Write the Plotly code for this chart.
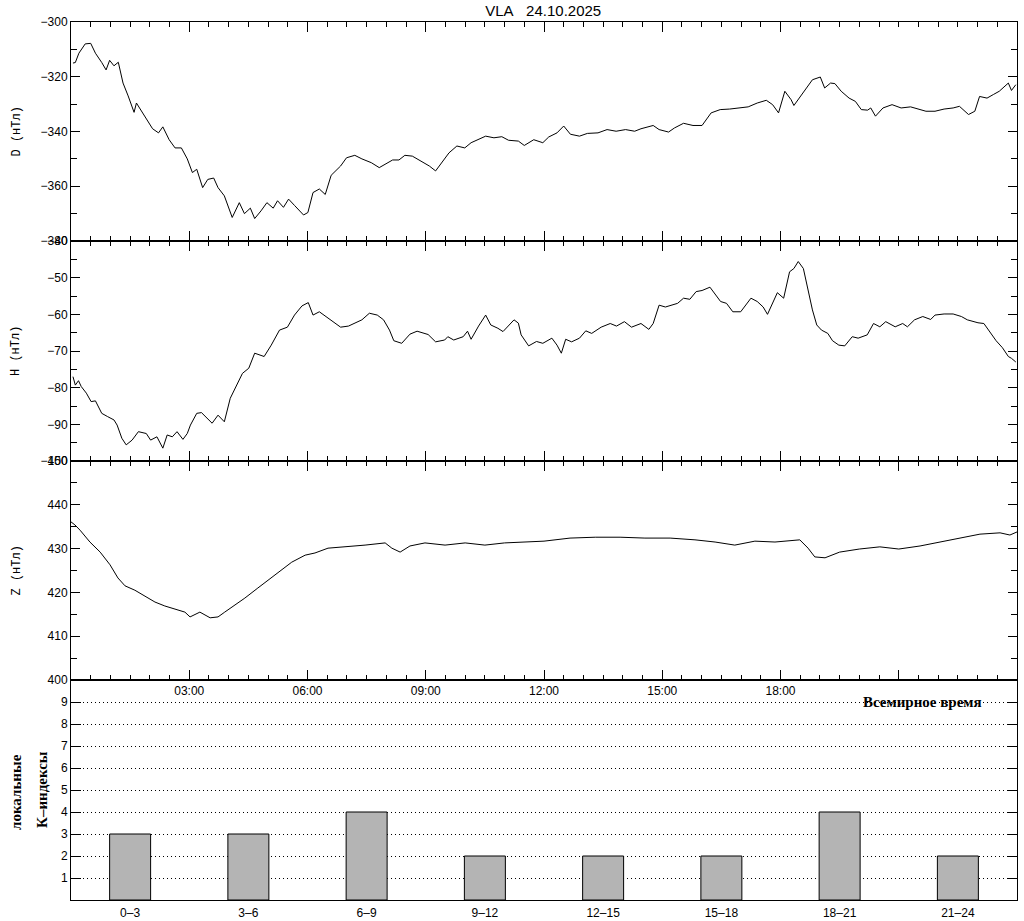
import plotly.graph_objects as go

# ---------------- data (hours UT, values in nT) ----------------
d_hours = [0.05, 0.11, 0.2, 0.36, 0.5, 0.62, 0.78, 0.89, 0.98, 1.09, 1.2, 1.32, 1.45, 1.6, 1.66, 1.79,
           1.94, 2.07, 2.22, 2.33, 2.49, 2.64, 2.8, 2.95, 3.08, 3.19, 3.34, 3.47, 3.62, 3.73, 3.89,
           4.09, 4.27, 4.4, 4.55, 4.66, 4.82, 4.97, 5.13, 5.24, 5.39, 5.52, 5.67, 5.9, 6.01, 6.14,
           6.3, 6.45, 6.6, 6.84, 6.99, 7.2, 7.38, 7.62, 7.82, 8.0, 8.16, 8.32, 8.47, 8.66, 8.86,
           9.09, 9.25, 9.4, 9.59, 9.79, 9.99, 10.15, 10.34, 10.52, 10.73, 10.93, 11.1, 11.35, 11.5,
           11.74, 11.97, 12.12, 12.33, 12.5, 12.67, 12.9, 13.1, 13.37, 13.6, 13.83, 14.07, 14.3,
           14.46, 14.77, 14.92, 15.16, 15.31, 15.54, 15.78, 16.01, 16.24, 16.47, 16.71, 16.94,
           17.18, 17.41, 17.64, 17.8, 17.95, 18.11, 18.27, 18.34, 18.5, 18.66, 18.81, 19.01, 19.12,
           19.27, 19.38, 19.54, 19.74, 19.9, 20.05, 20.21, 20.29, 20.41, 20.6, 20.83, 21.06, 21.3,
           21.53, 21.69, 21.92, 22.15, 22.38, 22.54, 22.77, 22.93, 23.05, 23.24, 23.4, 23.55, 23.78,
           23.86, 23.97]
d_values = [-315.0, -314.8, -311.4, -308.0, -307.8, -311.4, -314.8, -317.5, -314.0, -316.0, -314.7,
            -322.3, -327.0, -333.0, -329.6, -332.6, -335.6, -339.0, -340.5, -338.3, -343.0, -346.0,
            -346.0, -350.0, -355.0, -353.8, -360.5, -357.5, -357.0, -360.5, -363.5, -371.4, -366.0,
            -370.0, -368.0, -371.8, -369.0, -366.0, -368.0, -365.3, -367.7, -364.7, -367.0, -370.5,
            -369.6, -362.3, -361.0, -363.0, -356.0, -352.6, -349.6, -348.7, -350.0, -351.4, -353.2,
            -351.6, -350.4, -350.4, -348.7, -349.0, -350.8, -352.6, -354.4, -351.4, -347.8, -345.3,
            -346.0, -344.1, -343.0, -341.7, -342.3, -341.9, -343.2, -343.5, -345.1, -343.0, -344.1,
            -342.0, -340.5, -338.0, -341.0, -341.7, -340.7, -340.5, -339.3, -339.9, -339.3, -339.9,
            -339.0, -337.8, -339.3, -340.2, -338.7, -337.0, -337.8, -337.8, -333.2, -332.0, -331.8,
            -331.4, -331.0, -329.6, -328.6, -330.2, -333.2, -325.3, -328.4, -330.5, -327.2, -324.1,
            -321.1, -320.1, -324.1, -322.3, -322.5, -325.3, -327.8, -329.0, -332.0, -332.2, -331.4,
            -334.4, -331.4, -330.2, -331.4, -331.0, -332.0, -332.6, -332.6, -331.8, -331.4, -330.8,
            -333.8, -332.6, -327.2, -327.8, -326.5, -325.3, -322.3, -325.0, -322.9]

h_hours = [0.05, 0.11, 0.19, 0.26, 0.39, 0.51, 0.62, 0.78, 0.93, 1.09, 1.17, 1.29, 1.4, 1.55, 1.71,
           1.91, 2.02, 2.18, 2.33, 2.44, 2.57, 2.69, 2.84, 2.95, 3.03, 3.19, 3.31, 3.42, 3.58, 3.73,
           3.89, 4.04, 4.2, 4.35, 4.51, 4.66, 4.9, 5.08, 5.29, 5.49, 5.67, 5.86, 6.02, 6.14, 6.3,
           6.45, 6.64, 6.84, 7.04, 7.23, 7.38, 7.57, 7.77, 7.93, 8.08, 8.19, 8.39, 8.6, 8.78, 9.06,
           9.25, 9.48, 9.56, 9.71, 9.95, 10.06, 10.15, 10.34, 10.52, 10.65, 10.83, 10.96, 11.08,
           11.24, 11.35, 11.42, 11.61, 11.81, 11.97, 12.2, 12.33, 12.44, 12.55, 12.7, 12.9, 13.06,
           13.21, 13.45, 13.68, 13.84, 14.04, 14.22, 14.46, 14.66, 14.77, 14.92, 15.08, 15.23,
           15.39, 15.54, 15.7, 15.86, 16.01, 16.21, 16.32, 16.48, 16.63, 16.79, 16.99, 17.15, 17.25,
           17.41, 17.56, 17.67, 17.8, 17.92, 18.08, 18.23, 18.34, 18.45, 18.58, 18.7, 18.81, 18.92,
           19.04, 19.2, 19.32, 19.48, 19.63, 19.82, 19.97, 20.2, 20.36, 20.52, 20.67, 20.91, 21.1,
           21.22, 21.4, 21.61, 21.81, 21.92, 22.15, 22.38, 22.59, 22.74, 23.01, 23.16, 23.32, 23.47,
           23.63, 23.78, 23.86, 23.97]
h_values = [-77.0, -79.3, -78.1, -79.7, -81.5, -83.8, -83.6, -87.0, -87.9, -88.8, -90.2, -93.8, -95.6,
            -94.3, -92.0, -92.5, -94.3, -93.4, -96.5, -92.9, -93.4, -92.0, -94.1, -92.5, -90.2, -87.0,
            -86.8, -87.9, -89.7, -87.5, -89.3, -82.9, -79.3, -76.1, -74.7, -70.6, -71.5, -68.4,
            -64.3, -63.5, -60.2, -57.7, -56.8, -60.2, -59.3, -60.5, -62.0, -63.5, -63.2, -62.3,
            -61.5, -59.7, -60.2, -61.5, -64.3, -67.2, -67.9, -65.4, -64.6, -65.5, -67.5, -67.0,
            -66.1, -67.0, -66.1, -64.6, -66.8, -63.2, -60.2, -62.9, -63.8, -64.7, -63.3, -61.5,
            -62.4, -65.6, -68.6, -67.4, -67.9, -66.5, -68.4, -70.6, -66.8, -67.5, -66.5, -64.5,
            -65.2, -63.5, -62.5, -63.2, -62.0, -63.5, -62.5, -64.1, -62.5, -57.5, -58.0, -57.5,
            -57.0, -55.6, -55.9, -53.8, -53.5, -52.6, -54.3, -56.5, -57.0, -59.3, -59.3, -57.0,
            -55.6, -56.5, -58.0, -60.0, -57.0, -54.1, -55.6, -48.4, -47.5, -45.6, -47.5, -53.4,
            -58.8, -62.9, -64.3, -65.2, -67.2, -68.4, -68.6, -66.1, -66.5, -65.6, -62.5, -63.4,
            -62.0, -63.4, -62.5, -63.4, -61.5, -60.6, -61.4, -60.2, -59.9, -59.9, -60.6, -61.5,
            -62.3, -62.5, -65.0, -67.2, -69.1, -71.5, -72.0, -73.0]

z_hours = [0.0, 0.1, 0.23, 0.48, 0.74, 0.99, 1.19, 1.37, 1.62, 1.88, 2.13, 2.38, 2.64, 2.89, 3.02,
           3.27, 3.53, 3.73, 3.9, 4.16, 4.41, 4.74, 5.0, 5.3, 5.6, 5.94, 6.19, 6.52, 6.95, 7.46,
           7.97, 8.14, 8.35, 8.6, 8.98, 9.49, 10.0, 10.5, 11.0, 11.5, 12.0, 12.66, 13.3, 13.93,
           14.56, 15.2, 15.83, 16.34, 16.84, 17.35, 17.86, 18.49, 18.7, 18.87, 19.13, 19.5, 20.0,
           20.52, 21.0, 21.54, 22.04, 22.55, 23.06, 23.57, 23.82, 24.0]
z_values = [436.1, 435.4, 434.2, 431.5, 429.2, 426.3, 423.3, 421.5, 420.5, 419.2, 417.8, 416.9, 416.2,
            415.5, 414.4, 415.5, 414.2, 414.4, 415.5, 417.1, 418.7, 421.0, 422.8, 424.7, 426.9,
            428.5, 429.0, 430.1, 430.4, 430.8, 431.3, 430.1, 429.2, 430.6, 431.3, 430.8, 431.3,
            430.8, 431.3, 431.5, 431.7, 432.4, 432.6, 432.6, 432.4, 432.4, 432.0, 431.5, 430.8,
            431.7, 431.5, 432.0, 430.1, 428.1, 427.9, 429.2, 429.9, 430.4, 429.9, 430.6, 431.5,
            432.4, 433.3, 433.6, 433.1, 433.8]

k_centers = [1.5, 4.5, 7.5, 10.5, 13.5, 16.5, 19.5, 22.5]
k_labels = ["0\u20133", "3\u20136", "6\u20139", "9\u201312", "12\u201315", "15\u201318", "18\u201321", "21\u201324"]
k_values = [3, 3, 4, 2, 2, 2, 4, 2]

time_tickvals = [3, 6, 9, 12, 15, 18, 21]
time_ticktext = ["03:00", "06:00", "09:00", "12:00", "15:00", "18:00", ""]

# ---------------- figure ----------------
TICKFONT = dict(family="Liberation Sans", size=12, color="black")
fig = go.Figure()

fig.add_trace(go.Scatter(x=d_hours, y=d_values, mode="lines", line=dict(color="black", width=1),
                         xaxis="x", yaxis="y", showlegend=False))
fig.add_trace(go.Scatter(x=h_hours, y=h_values, mode="lines", line=dict(color="black", width=1),
                         xaxis="x2", yaxis="y2", showlegend=False))
fig.add_trace(go.Scatter(x=z_hours, y=z_values, mode="lines", line=dict(color="black", width=1),
                         xaxis="x3", yaxis="y3", showlegend=False))
fig.add_trace(go.Bar(x=k_centers, y=k_values, width=1.04, marker=dict(color="#b4b4b4",
                     line=dict(color="black", width=1)), xaxis="x4", yaxis="y4", showlegend=False))

H = 878.0
doms = [[(900 - 241) / H, 1.0], [(900 - 461) / H, (900 - 241) / H],
        [(900 - 680) / H, (900 - 461) / H], [0.0, (900 - 680) / H]]


def time_axis(anchor, labels):
    return dict(domain=[0, 1], anchor=anchor, range=[0, 24], showline=True, linecolor="black",
                linewidth=1, mirror="ticks", ticks="inside", ticklen=10, tickcolor="black",
                tickmode="array", tickvals=time_tickvals, ticktext=time_ticktext,
                showticklabels=labels, tickfont=TICKFONT, showgrid=False, zeroline=False,
                automargin=False,
                minor=dict(dtick=0.5, tick0=0, ticks="inside", ticklen=5, tickcolor="black",
                           showgrid=False))


def val_axis(anchor, dom, rng, dtick, minor_dtick):
    return dict(domain=dom, anchor=anchor, range=rng, showline=True, linecolor="black",
                linewidth=1, mirror="ticks", ticks="inside", ticklen=9, tickcolor="black",
                dtick=dtick, tick0=0, tickfont=TICKFONT, showgrid=False, zeroline=False,
                automargin=False,
                minor=dict(dtick=minor_dtick, tick0=0, ticks="inside", ticklen=6,
                           tickcolor="black", showgrid=False))


fig.update_layout(
    width=1024, height=921,
    margin=dict(l=71, r=7, t=22, b=21, pad=0, autoexpand=False),
    paper_bgcolor="white", plot_bgcolor="white",
    showlegend=False,
    title=dict(text="VLA\u00a0\u00a0\u00a024.10.2025", x=0.5305, xanchor="center", y=1 - 11 / 921.0,
               yanchor="middle", automargin=False,
               font=dict(family="Liberation Sans", size=15, color="black")),
    xaxis=time_axis("y", False),
    xaxis2=time_axis("y2", False),
    xaxis3=time_axis("y3", True),
    xaxis4=dict(domain=[0, 1], anchor="y4", range=[0, 24], showline=True, linecolor="black",
                linewidth=1, mirror=True, ticks="", tickmode="array", tickvals=k_centers,
                ticktext=k_labels, tickfont=TICKFONT, ticklabelstandoff=2, automargin=False,
                showgrid=False, zeroline=False),
    yaxis=val_axis("x", doms[0], [-380, -300], 20, 10),
    yaxis2=val_axis("x2", doms[1], [-100, -40], 10, 5),
    yaxis3=val_axis("x3", doms[2], [400, 450], 10, 5),
    yaxis4=dict(domain=doms[3], anchor="x4", range=[0, 10], showline=True, linecolor="black",
                linewidth=1, mirror="ticks", ticks="inside", ticklen=10, tickcolor="black",
                tickmode="array", tickvals=[1, 2, 3, 4, 5, 6, 7, 8, 9], tickfont=TICKFONT,
                showgrid=True, gridcolor="black", gridwidth=1, griddash="1px,3px",
                zeroline=False, automargin=False),
)

ytitle_font = dict(family="Liberation Mono", size=12, color="black")
for label, yc in [("D (\u043d\u0422\u043b)", 131.5), ("H (\u043d\u0422\u043b)", 351),
                  ("Z (\u043d\u0422\u043b)", 570.5)]:
    fig.add_annotation(text=label, xref="paper", yref="paper", x=(16 - 71) / 946.0,
                       y=(900 - yc) / H, textangle=-90, showarrow=False, xanchor="center",
                       yanchor="middle", font=ytitle_font)

serif_bold = dict(family="Liberation Serif", size=15, color="black")
fig.add_annotation(text="<b>\u043b\u043e\u043a\u0430\u043b\u044c\u043d\u044b\u0435</b>", xref="paper",
                   yref="paper", x=(16 - 71) / 946.0, y=(900 - 792) / H, textangle=-90,
                   showarrow=False, xanchor="center", yanchor="middle", font=serif_bold)
fig.add_annotation(text="<b>\u041a\u2013\u0438\u043d\u0434\u0435\u043a\u0441\u044b</b>", xref="paper",
                   yref="paper", x=(42 - 71) / 946.0, y=(900 - 790) / H, textangle=-90,
                   showarrow=False, xanchor="center", yanchor="middle", font=serif_bold)
fig.add_annotation(text="<b>\u0412\u0441\u0435\u043c\u0438\u0440\u043d\u043e\u0435 \u0432\u0440\u0435\u043c\u044f</b>",
                   xref="paper", yref="paper", x=(922 - 71) / 946.0, y=(900 - 702) / H,
                   showarrow=False, xanchor="center", yanchor="middle", font=serif_bold)

fig.write_html("out.html", config={"displayModeBar": False},
               post_script="document.body.style.margin='0px';")
